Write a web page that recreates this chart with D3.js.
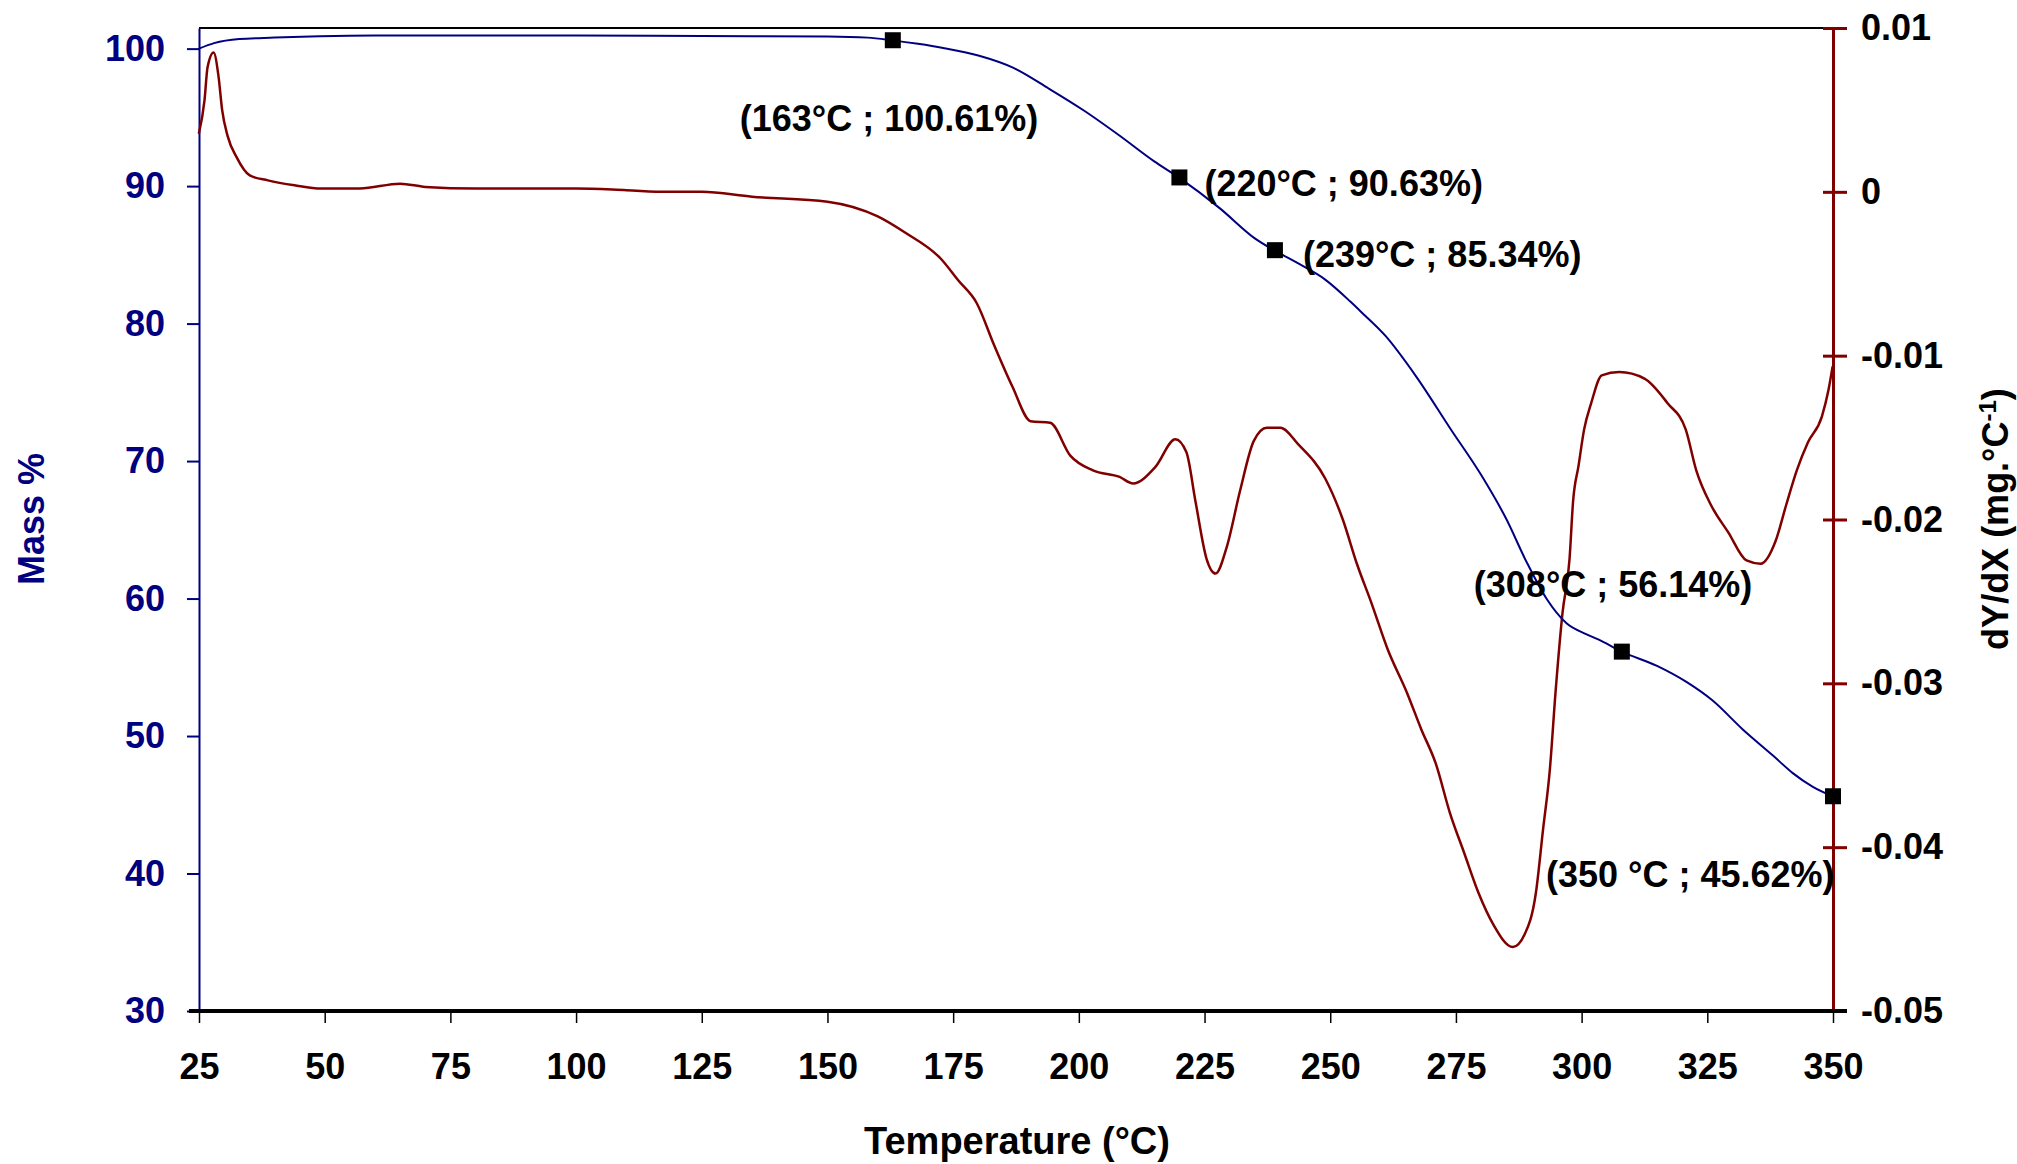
<!DOCTYPE html>
<html>
<head>
	<meta charset="utf-8">
	<script src="https://cdnjs.cloudflare.com/ajax/libs/d3/7.8.5/d3.min.js"></script>
	<style>
	body { margin: 0; background: #fff; }
	text { font-family: "Liberation Sans", Arial, sans-serif; font-weight: bold; }
	.line { fill: none; stroke-linejoin: round; stroke-linecap: round; }
	</style>
</head>
<body>
	<svg width="2017" height="1164"></svg>
	<script>
	//mass loss curve (TG), left axis
	let massTemp = [25, 28, 33, 40, 49, 60, 100, 125, 150, 158, 163, 168, 173, 180, 187, 194, 201, 208, 215, 220,
		228, 235, 239, 244, 249, 254, 256, 261, 267, 274, 280, 285, 289, 293, 297, 301, 304, 308, 315, 321,
		326, 332, 338, 342, 346, 350];
	let massPct = [100.0, 100.4, 100.7, 100.8, 100.9, 100.95, 100.95, 100.92, 100.88, 100.8, 100.6, 100.35, 100.05, 99.5, 98.6, 97.1, 95.5, 93.7, 91.8, 90.6,
		88.4, 86.2, 85.3, 84.3, 83.2, 81.6, 80.9, 79.1, 76.2, 72.3, 69.0, 65.8, 62.7, 60.0, 58.2, 57.4, 56.9, 56.14, 55.1, 53.9,
		52.6, 50.5, 48.6, 47.3, 46.3, 45.6];

	//derivative curve (DTG), right axis
	let dtgTemp = [25, 26.1, 26.7, 27.9, 28.9, 29.6, 30.7, 32.5, 35.1, 38.7, 44, 49.3, 57, 65, 70, 80, 90, 100, 110, 118,
		125, 135, 150, 160, 165.5, 172.6, 176, 179.7, 183.2, 186.8, 190.4, 194.3, 198.3, 202.8, 208.1, 210.8, 215.2, 219.2, 221.4, 223.2,
		225.4, 227.2, 229.4, 232.1, 234.8, 237.4, 240.1, 243.6, 249, 252.5, 255.3, 258.2, 261.4, 265.3, 268.1, 271, 273.8, 276.7, 279.5, 282.4,
		286.3, 288.7, 290.9, 292.3, 293.7, 294.8, 296.2, 297.6, 298.3, 299.4, 300.5, 301.9, 304, 307.5, 312.5, 317.1, 320.7, 322.8, 325.7, 329.2,
		332.8, 335.6, 338.6, 340.7, 342.8, 345, 347.8, 349.1, 349.9];
	let dtgValue = [0.0036, 0.0056, 0.0076, 0.0085, 0.0070, 0.0050, 0.0034, 0.0021, 0.0010, 0.0007, 0.0004, 0.0002, 0.0002, 0.0005, 0.0003, 0.0002, 0.0002, 0.0002, 0.0001, 0.0000,
		0.0000, -0.0003, -0.0006, -0.0015, -0.0025, -0.0041, -0.0054, -0.0068, -0.0094, -0.0119, -0.0140, -0.0141, -0.0161, -0.0170, -0.0174, -0.0178, -0.0168, -0.0151, -0.0159, -0.0189,
		-0.0224, -0.0233, -0.0217, -0.0182, -0.0152, -0.0144, -0.0144, -0.0154, -0.0175, -0.0200, -0.0227, -0.0251, -0.0279, -0.0306, -0.0328, -0.0349, -0.0379, -0.0404, -0.0428, -0.0447,
		-0.0461, -0.0453, -0.0428, -0.0390, -0.0352, -0.0306, -0.0257, -0.0224, -0.0189, -0.0167, -0.0145, -0.0129, -0.0112, -0.0110, -0.0114, -0.0129, -0.0145, -0.0170, -0.0191, -0.0208,
		-0.0225, -0.0227, -0.0213, -0.0191, -0.0170, -0.0153, -0.0137, -0.0121, -0.0107];

	//labelled points on the mass curve
	let markTemp = [163, 220, 239, 308, 350];
	let markMass = [100.61, 90.63, 85.34, 56.14, 45.62];
	let markText = ["(163°C ; 100.61%)", "(220°C ; 90.63%)", "(239°C ; 85.34%)", "(308°C ; 56.14%)", "(350 °C ; 45.62%)"];

	//tick values
	let xTicks = [25, 50, 75, 100, 125, 150, 175, 200, 225, 250, 275, 300, 325, 350];
	let leftTicks = [30, 40, 50, 60, 70, 80, 90, 100];
	let rightTicks = [-0.05, -0.04, -0.03, -0.02, -0.01, 0, 0.01];

	let svg = d3.select("svg"),
		margin = {top: 28, right: 184, bottom: 153, left: 199},
		width = svg.attr("width") - margin.left - margin.right,
		height = svg.attr("height") - margin.top - margin.bottom,
		g = svg.append("g").attr("transform", "translate(" + margin.left + "," + margin.top + ")");

	let navy = "#000080", maroon = "#800000";

	//scales
	let x = d3.scaleLinear().domain([25, 350]).range([0, width]),
		yL = d3.scaleLinear().domain([30, 101.5]).range([height, 0]),
		yR = d3.scaleLinear().domain([-0.05, 0.01]).range([height, 0]);

	//top frame line
	g.append("line")
		.attr("x1", 0).attr("x2", width)
		.attr("y1", 0).attr("y2", 0)
		.attr("stroke", "#000").attr("stroke-width", 2);

	//left axis
	let axL = g.append("g")
		.call(d3.axisLeft(yL).tickValues(leftTicks).tickSize(12).tickSizeOuter(0).tickPadding(22));
	axL.select(".domain").attr("stroke", navy).attr("stroke-width", 2);
	axL.selectAll(".tick line").attr("stroke", navy).attr("stroke-width", 2);
	axL.selectAll("text").attr("fill", navy).style("font-size", "36px");

	//right axis, ticks cross the line
	let axR = g.append("g")
		.attr("transform", "translate(" + width + ",0)")
		.call(d3.axisRight(yR).tickValues(rightTicks).tickSize(14).tickSizeOuter(0).tickPadding(14)
			.tickFormat(function(d) { return d === 0 ? "0" : d.toFixed(2); }));
	axR.select(".domain").attr("stroke", maroon).attr("stroke-width", 3);
	axR.selectAll(".tick line").attr("x1", -10).attr("stroke", maroon).attr("stroke-width", 3);
	axR.selectAll("text").attr("fill", "#000").style("font-size", "36px");

	//bottom axis
	let axB = g.append("g")
		.attr("transform", "translate(0," + height + ")")
		.call(d3.axisBottom(x).tickValues(xTicks).tickSize(12).tickSizeOuter(0).tickPadding(30));
	axB.select(".domain").attr("stroke", "#000").attr("stroke-width", 4).attr("d", "M-10,0H" + (width + 14));
	axB.selectAll(".tick line").attr("stroke", "#000").attr("stroke-width", 1.5);
	axB.selectAll("text").attr("fill", "#000").style("font-size", "36px");

	//curves
	let massLine = d3.line()
		.curve(d3.curveMonotoneX)
		.x(function(d) { return x(d[0]); })
		.y(function(d) { return yL(d[1]); });
	let dtgLine = d3.line()
		.curve(d3.curveMonotoneX)
		.x(function(d) { return x(d[0]); })
		.y(function(d) { return yR(d[1]); });

	g.append("path")
		.attr("class", "line")
		.attr("d", dtgLine(d3.zip(dtgTemp, dtgValue)))
		.attr("stroke", maroon)
		.attr("stroke-width", 2.5);

	g.append("path")
		.attr("class", "line")
		.attr("d", massLine(d3.zip(massTemp, massPct)))
		.attr("stroke", navy)
		.attr("stroke-width", 2);

	//markers
	let marks = d3.zip(markTemp, markMass, markText);
	g.selectAll(".mark")
		.data(marks)
		.enter().append("rect")
		.attr("class", "mark")
		.attr("x", function(d) { return x(d[0]) - 8; })
		.attr("y", function(d) { return yL(d[1]) - 8; })
		.attr("width", 16).attr("height", 16)
		.attr("fill", "#000");

	//point labels, offsets from each marker
	let labelOffset = [[-153, 91], [25, 19], [28, 17], [-148, -55], [-287, 91]];
	g.selectAll(".mark-label")
		.data(marks)
		.enter().append("text")
		.attr("class", "mark-label")
		.attr("x", function(d, i) { return x(d[0]) + labelOffset[i][0]; })
		.attr("y", function(d, i) { return yL(d[1]) + labelOffset[i][1]; })
		.style("font-size", "36px")
		.attr("fill", "#000")
		.text(function(d) { return d[2]; });

	//axis titles
	svg.append("text")
		.attr("transform", "translate(44,519) rotate(-90)")
		.attr("text-anchor", "middle")
		.attr("fill", navy)
		.style("font-size", "36px")
		.text("Mass %");

	let rTitle = svg.append("text")
		.attr("transform", "translate(2008,519) rotate(-90)")
		.attr("text-anchor", "middle")
		.attr("fill", "#000")
		.style("font-size", "36px");
	rTitle.append("tspan").text("dY/dX (mg.°C");
	rTitle.append("tspan").attr("dy", -12).style("font-size", "24px").text("-1");
	rTitle.append("tspan").attr("dy", 12).text(")");

	svg.append("text")
		.attr("x", 1017)
		.attr("y", 1154)
		.attr("text-anchor", "middle")
		.attr("fill", "#000")
		.style("font-size", "38px")
		.text("Temperature (°C)");
	</script>
</body>
</html>
